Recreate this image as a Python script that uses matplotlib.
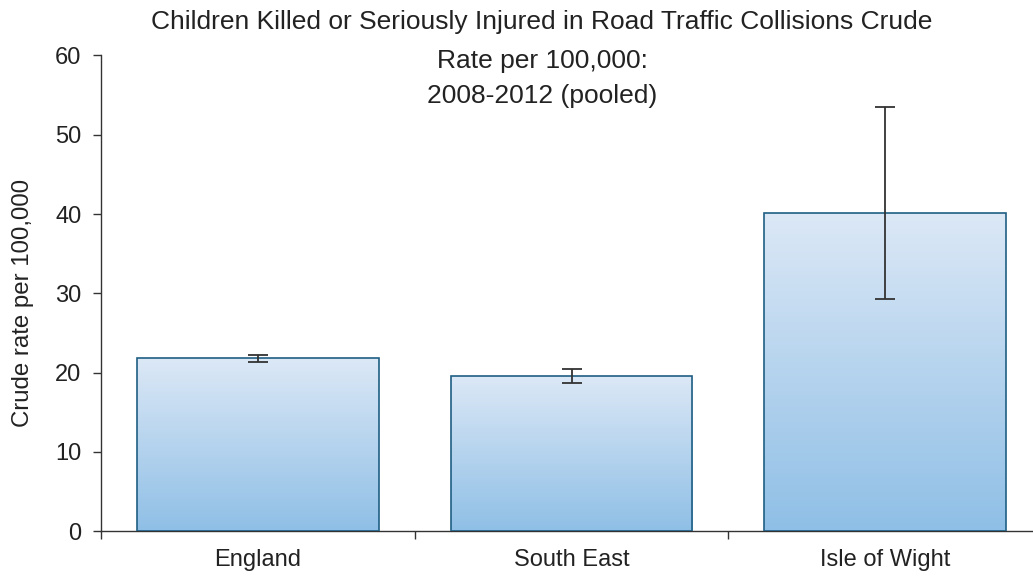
import numpy as np
import matplotlib.pyplot as plt
from matplotlib.colors import LinearSegmentedColormap

plt.rcParams["font.family"] = ["Liberation Sans", "DejaVu Sans"]

# ---------------------------------------------------------
# DATOS
# ---------------------------------------------------------

areas = ["England", "South East", "Isle of Wight"]
rates = [21.8, 19.6, 40.1]
ci_low = [21.4, 18.7, 29.3]
ci_high = [22.2, 20.5, 53.5]

title_lines = [
    "Children Killed or Seriously Injured in Road Traffic Collisions Crude",
    "Rate per 100,000:",
    "2008-2012 (pooled)",
]

# ---------------------------------------------------------
# FIGURA
# ---------------------------------------------------------

fig = plt.figure(figsize=(10.33, 5.79), dpi=100)
ax = fig.add_axes([101 / 1033, 47.7 / 579, 941 / 1033, 475.8 / 579])

x = np.arange(len(areas))
bars = ax.bar(
    x,
    rates,
    width=0.77,
    facecolor="none",
    edgecolor="#1f5f84",
    linewidth=1.2,
    zorder=3,
)

# Relleno en degradado para cada barra
grad_cmap = LinearSegmentedColormap.from_list("azul", ["#8fbfe6", "#dce8f6"])
grad = np.linspace(0, 1, 256).reshape(-1, 1)
for bar in bars:
    bx, by = bar.get_x(), bar.get_y()
    bw, bh = bar.get_width(), bar.get_height()
    img = ax.imshow(
        grad,
        cmap=grad_cmap,
        aspect="auto",
        origin="lower",
        extent=[bx, bx + bw, by, by + bh],
        zorder=2,
    )
    img.set_clip_path(bar)

err = [np.array(rates) - np.array(ci_low), np.array(ci_high) - np.array(rates)]
ax.errorbar(
    x,
    rates,
    yerr=err,
    fmt="none",
    ecolor="#333333",
    elinewidth=1.3,
    capsize=7,
    capthick=1.3,
    zorder=4,
)

ax.set_xlim(-0.5, len(areas) - 0.5)
ax.set_ylim(0, 60)
ax.set_yticks(range(0, 61, 10))

# Marcas en los límites de categoría, etiquetas en el centro
ax.set_xticks(np.arange(len(areas) + 1) - 0.5)
ax.set_xticklabels([])
ax.set_xticks(x, minor=True)
ax.set_xticklabels(areas, minor=True)
ax.tick_params(axis="x", which="major", length=6, width=1, color="#333333")
ax.tick_params(axis="x", which="minor", length=0, pad=13, labelsize=17, labelcolor="#222222")
ax.tick_params(axis="y", length=6, width=1, color="#333333", pad=8, labelsize=17, labelcolor="#222222")

for side in ["top", "right"]:
    ax.spines[side].set_visible(False)
for side in ["left", "bottom"]:
    ax.spines[side].set_color("#333333")
    ax.spines[side].set_linewidth(1)

fig.text(
    23 / 1033,
    (579 - 303) / 579,
    "Crude rate per 100,000",
    rotation=90,
    ha="center",
    va="center",
    fontsize=17.3,
    color="#222222",
)

baselines = [28.5, 68.3, 103.5]
for line, yb in zip(title_lines, baselines):
    fig.text(
        542 / 1033,
        1 - yb / 579,
        line,
        ha="center",
        va="baseline",
        fontsize=19,
        color="#222222",
    )

fig.savefig("out.png", dpi=100)
